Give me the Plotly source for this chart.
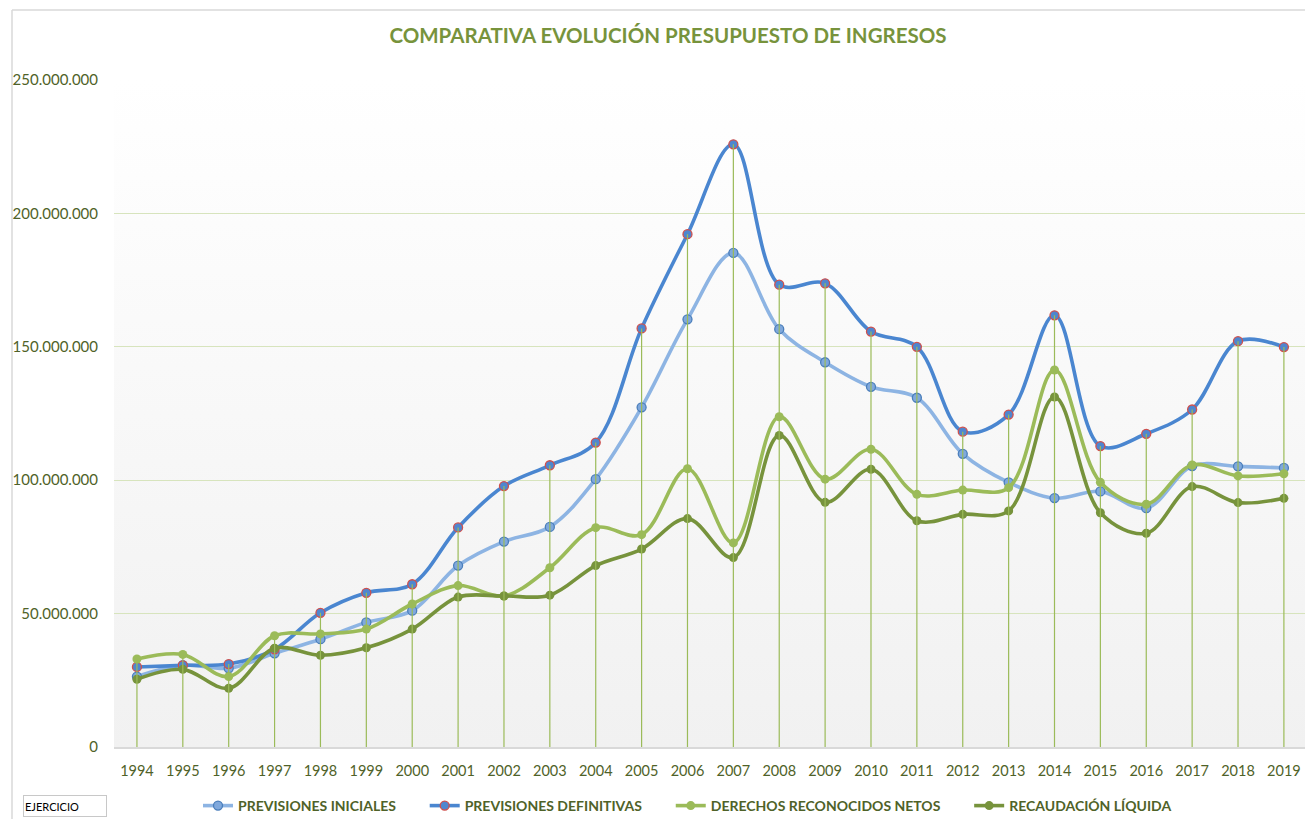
import base64
import plotly.graph_objects as go

years = [str(y) for y in range(1994, 2020)]

previsiones_iniciales = [26.4, 30.7, 29.5, 35.1, 40.4, 46.7, 51.1, 68.0, 77.0, 82.5, 100.4, 127.3, 160.3, 185.2,
                         156.6, 144.2, 135.0, 130.9, 109.9, 99.2, 93.3, 95.8, 89.5, 105.3, 105.2, 104.6]
previsiones_definitivas = [30.0, 30.6, 31.1, 36.6, 50.3, 57.8, 61.0, 82.3, 97.8, 105.6, 114.1, 156.9, 192.2, 225.9,
                           173.3, 173.8, 155.7, 150.0, 118.2, 124.6, 161.8, 112.8, 117.4, 126.5, 152.1, 149.9]
derechos_reconocidos = [33.0, 34.7, 26.4, 41.7, 42.4, 44.2, 53.6, 60.5, 56.6, 67.2, 82.2, 79.6, 104.3, 76.5,
                        123.8, 100.4, 111.6, 94.7, 96.3, 97.2, 141.3, 99.2, 91.0, 105.7, 101.6, 102.4]
recaudacion_liquida = [25.4, 29.1, 22.0, 37.0, 34.4, 37.2, 44.2, 56.2, 56.6, 56.9, 68.0, 74.2, 85.6, 71.0,
                       116.8, 91.7, 104.1, 84.8, 87.2, 88.5, 131.2, 87.8, 80.1, 97.6, 91.6, 93.2]

series_names = ["PREVISIONES INICIALES", "PREVISIONES DEFINITIVAS",
                "DERECHOS RECONOCIDOS NETOS", "RECAUDACIÓN LÍQUIDA"]
y_ticks = [0, 50_000_000, 100_000_000, 150_000_000, 200_000_000, 250_000_000]

M = 1_000_000
series = [
    (series_names[0], previsiones_iniciales, "#8db4e3", dict(color="#7fa8dc", line=dict(color="#4a7ebb", width=1.3))),
    (series_names[1], previsiones_definitivas, "#4a86d0", dict(color="#4f86cf", line=dict(color="#d0504d", width=1.3))),
    (series_names[2], derechos_reconocidos, "#9bbb59", dict(color="#9bbb59", line=dict(width=0))),
    (series_names[3], recaudacion_liquida, "#77933c", dict(color="#77933c", line=dict(width=0))),
]

fig = go.Figure()
pad = "\u00a0" * 7
for name, vals, col, mk in series:
    fig.add_trace(go.Scatter(
        x=years, y=[v * M for v in vals], name=name + pad, mode="lines+markers",
        line=dict(color=col, width=3.6, shape="spline", smoothing=1.0),
        marker=dict(size=9, **mk),
    ))

# drop lines from the highest point of each category down to the axis
maxima = [max(a, b, c, d) for a, b, c, d in zip(previsiones_iniciales, previsiones_definitivas,
                                                  derechos_reconocidos, recaudacion_liquida)]
dx, dy = [], []
for yr, mx in zip(years, maxima):
    dx += [yr, yr, None]
    dy += [0, mx * M, None]
fig.add_trace(go.Scatter(x=dx, y=dy, mode="lines", line=dict(color="#9bbb59", width=1.2),
                         showlegend=False, hoverinfo="skip"))

svg = ("<svg xmlns='http://www.w3.org/2000/svg' width='10' height='100' preserveAspectRatio='none'>"
       "<defs><linearGradient id='g' x1='0' y1='0' x2='0' y2='1'>"
       "<stop offset='0' stop-color='#ffffff'/><stop offset='1' stop-color='#f1f1f1'/>"
       "</linearGradient></defs><rect width='10' height='100' fill='url(#g)'/></svg>")
src = "data:image/svg+xml;base64," + base64.b64encode(svg.encode()).decode()

L, R, T, B = 114, 0, 80, 72
W, H = 1305, 819
pw, ph = W - L - R, H - T - B

def px(x):
    return (x - L) / pw

def py(y):
    return (H - B - y) / ph

font_fam = "Lato, 'Open Sans', sans-serif"
xtick_font = dict(family=font_fam, size=14.5, color="#4f6228")
ytick_font = dict(family=font_fam, size=15, color="#4f6228")

fig.update_layout(
    width=W, height=H,
    margin=dict(l=L, r=R, t=T, b=B, pad=0, autoexpand=False),
    paper_bgcolor="white", plot_bgcolor="rgba(0,0,0,0)",
    separators=",.",
    title=dict(text="<b>COMPARATIVA EVOLUCIÓN PRESUPUESTO DE INGRESOS</b>",
               xref="container", x=668 / W, xanchor="center",
               yref="container", y=1 - 36 / H, yanchor="middle",
               font=dict(family=font_fam, size=20.5, color="#77933c")),
    xaxis=dict(type="category", range=[-0.5, 25.46], showgrid=False, zeroline=False,
               showline=True, linecolor="#d9d9d9", linewidth=1.5, ticks="",
               tickfont=xtick_font, ticklabelstandoff=10, automargin=False),
    yaxis=dict(range=[0, 250_000_000], tickvals=y_ticks, tickformat=",d",
               showgrid=True, gridcolor="#d7e4bd", gridwidth=1.3, zeroline=False,
               showline=False, ticks="", tickfont=ytick_font, ticklabelstandoff=15,
               automargin=False),
    legend=dict(orientation="h", x=px(198), xanchor="left", y=py(806), yanchor="middle",
                font=dict(family=font_fam, size=14, color="#4f6228", weight="bold"),
                itemwidth=30, bgcolor="rgba(0,0,0,0)", traceorder="normal"),
    images=[dict(source=src, xref="paper", yref="paper", x=0, y=1, sizex=1, sizey=1,
                 xanchor="left", yanchor="top", sizing="stretch", layer="below")],
    shapes=[
        dict(type="line", xref="paper", yref="paper", x0=px(12), x1=px(12), y0=py(10), y1=py(819),
             line=dict(color="#d9d9d9", width=1.5)),
        dict(type="line", xref="paper", yref="paper", x0=px(12), x1=px(1305), y0=py(10), y1=py(10),
             line=dict(color="#d9d9d9", width=1.5)),
    ],
    annotations=[dict(text="EJERCICIO", xref="paper", yref="paper", x=px(23), xanchor="left",
                      y=py(806), yanchor="middle", showarrow=False, align="left",
                      font=dict(family=font_fam, size=11, color="#000000"),
                      bgcolor="white", bordercolor="#c8c8c8", borderwidth=1, width=80, height=18)],
    showlegend=True,
)

fig.write_html("out.html", config={"displayModeBar": False},
               post_script="document.body.style.margin='0';document.body.style.overflow='hidden';")
